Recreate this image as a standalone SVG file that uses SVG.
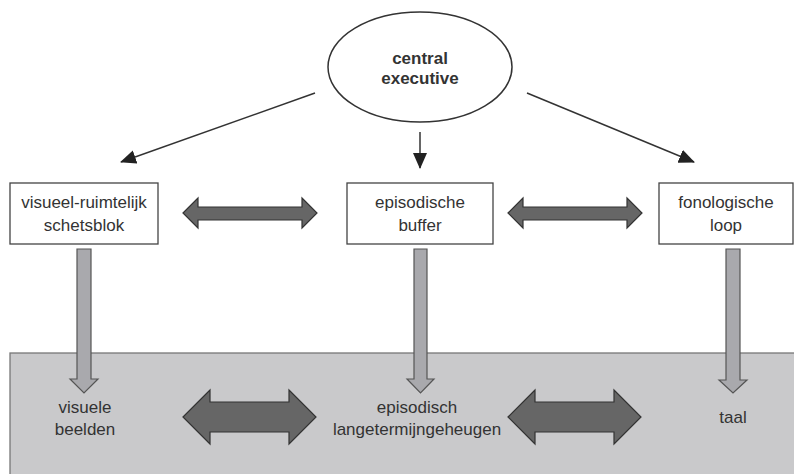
<svg xmlns="http://www.w3.org/2000/svg" width="794" height="474" viewBox="0 0 794 474">
<style>
text{font-family:"Liberation Sans",Arial,sans-serif;font-size:17px;fill:#333;text-anchor:middle}
.b{font-weight:bold}
.box{fill:#fff;stroke:#444;stroke-width:1.3}
.line{stroke:#333;stroke-width:1.5;fill:none}
.dbl{fill:#666;stroke:#333;stroke-width:1.2}
.down{fill:#a9a9ad;stroke:#555;stroke-width:1.2}
</style>
<defs>
<marker id="ah" markerWidth="16" markerHeight="14" refX="15" refY="7" orient="auto" markerUnits="userSpaceOnUse" viewBox="0 0 16 14">
<path d="M0,0 L16,7 L0,14 z" fill="#222"/>
</marker>
</defs>
<rect id="ltm" x="10" y="353" width="790" height="130" fill="#c9c9cb" stroke="#777" stroke-width="1.3"/>
<g id="ce">
<ellipse cx="420" cy="67" rx="92" ry="55" fill="#fff" stroke="#333" stroke-width="1.5"/>
<text class="b" x="420" y="64">central</text>
<text class="b" x="420" y="84">executive</text>
</g>
<g id="vrs">
<rect class="box" x="10" y="183" width="148" height="61"/>
<text x="84" y="208">visueel-ruimtelijk</text>
<text x="84" y="231">schetsblok</text>
</g>
<g id="eb">
<rect class="box" x="347" y="183" width="146" height="61"/>
<text x="420" y="208">episodische</text>
<text x="420" y="231">buffer</text>
</g>
<g id="fl">
<rect class="box" x="659" y="183" width="134" height="61"/>
<text x="726" y="208">fonologische</text>
<text x="726" y="231">loop</text>
</g>
<g id="vb">
<text x="85" y="413">visuele</text>
<text x="85" y="435">beelden</text>
</g>
<g id="elt">
<text x="417" y="413">episodisch</text>
<text x="417" y="435">langetermijngeheugen</text>
</g>
<g id="taal">
<text x="733" y="423">taal</text>
</g>
<g id="connectors">
<line class="line" x1="315" y1="93" x2="121" y2="162" marker-end="url(#ah)"/>
<line class="line" x1="420" y1="132" x2="420" y2="168" marker-end="url(#ah)"/>
<line class="line" x1="527" y1="93" x2="694" y2="162" marker-end="url(#ah)"/>
<path class="dbl" d="M183,213 L198,198 L198,207 L302,207 L302,198 L317,213 L302,228 L302,220 L198,220 L198,228 Z"/>
<path class="dbl" d="M508,213 L523,198 L523,207 L627,207 L627,198 L642,213 L627,228 L627,220 L523,220 L523,228 Z"/>
<path class="dbl" d="M183,417 L210,390 L210,402 L289,402 L289,390 L316,417 L289,444 L289,432 L210,432 L210,444 Z"/>
<path class="dbl" d="M508,417 L535,390 L535,402 L614,402 L614,390 L641,417 L614,444 L614,432 L535,432 L535,444 Z"/>
<path class="down" d="M77,249 L91,249 L91,379 L98,379 L84,393 L70,379 L77,379 Z"/>
<path class="down" d="M414,249 L427,249 L427,379 L434,379 L420.5,393 L407,379 L414,379 Z"/>
<path class="down" d="M726,249 L740,249 L740,380 L747,380 L733,393 L719,380 L726,380 Z"/>
</g>
</svg>
